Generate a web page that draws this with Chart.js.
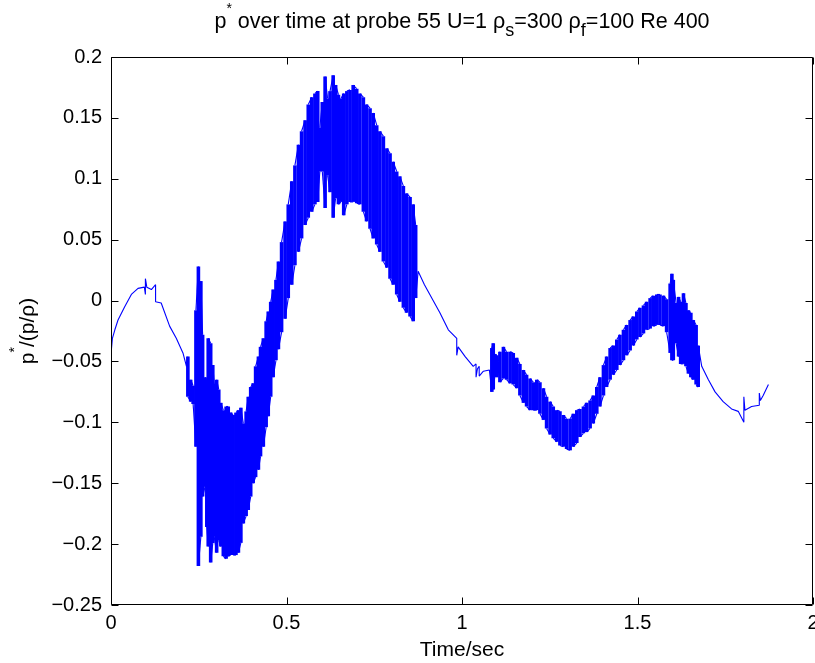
<!DOCTYPE html>
<html>
<head>
<meta charset="utf-8">
<script src="https://cdn.jsdelivr.net/npm/chart.js@4"></script>
<style>
  html, body { margin: 0; padding: 0; background: #fff; }
  canvas { display: block; }
</style>
</head>
<body>
<canvas id="chart" width="815" height="663"></canvas>
<script>
// probe 55 trace, read off the plot
// where pMax != pMin the signal swings between the two at that time
const timeSec = [
  // smooth start
  0.000, 0.004, 0.011, 0.020, 0.039, 0.058, 0.077, 0.095, 0.098, 0.102,
  0.115, 0.127, 0.143, 0.167, 0.186, 0.205, 0.215, 0.219, 0.227, 0.234,
  // first oscillating stretch
  0.242, 0.249, 0.256, 0.261, 0.268, 0.273, 0.277, 0.284, 0.290, 0.294,
  0.301, 0.307, 0.313, 0.320, 0.328, 0.334, 0.341, 0.348, 0.356, 0.363,
  0.370, 0.377, 0.385, 0.391, 0.398, 0.405, 0.412, 0.420, 0.426, 0.434,
  0.442, 0.448, 0.455, 0.462, 0.470, 0.477, 0.486, 0.496, 0.505, 0.515,
  0.524, 0.534, 0.543, 0.553, 0.562, 0.572, 0.581, 0.589, 0.595, 0.602,
  0.610, 0.617, 0.624, 0.633, 0.640, 0.648, 0.655, 0.663, 0.672, 0.681,
  0.690, 0.700, 0.709, 0.719, 0.728, 0.738, 0.747, 0.757, 0.766, 0.776,
  0.786, 0.795, 0.804, 0.814, 0.823, 0.833, 0.842, 0.852, 0.861, 0.868,
  // smooth middle
  0.875, 0.893, 0.937, 0.961, 0.985, 0.989, 1.009, 1.032, 1.040, 1.044,
  1.049, 1.061, 1.078,
  // second oscillating stretch
  1.085, 1.089, 1.094, 1.099, 1.104, 1.108, 1.118, 1.127, 1.137, 1.146,
  1.156, 1.165, 1.175, 1.184, 1.194, 1.203, 1.213, 1.222, 1.232, 1.241,
  1.251, 1.260, 1.270, 1.279, 1.289, 1.298, 1.308, 1.317, 1.327, 1.336,
  1.346, 1.355, 1.365, 1.374, 1.384, 1.393, 1.403, 1.412, 1.422, 1.431,
  1.441, 1.450, 1.460, 1.469, 1.479, 1.488, 1.498, 1.507, 1.517, 1.526,
  1.536, 1.545, 1.555, 1.564, 1.574, 1.583, 1.593, 1.598, 1.602, 1.610,
  1.617, 1.623, 1.631, 1.638, 1.645, 1.652, 1.659, 1.667, 1.673,
  // smooth end
  1.683, 1.702, 1.721, 1.744, 1.768, 1.787, 1.803, 1.806, 1.825, 1.847,
  1.850, 1.858, 1.873
];

const pMax = [
  -0.044, -0.031, -0.024, -0.016, -0.005, 0.005, 0.010, 0.011, 0.018, 0.011,
  0.009, 0.013, -0.002, -0.021, -0.031, -0.043, -0.054, -0.046, -0.065, -0.070,

  -0.008, 0.028, 0.016, -0.028, -0.063, -0.065, -0.031, -0.035, -0.053, -0.068,
  -0.065, -0.073, -0.084, -0.090, -0.087, -0.087, -0.092, -0.094, -0.092, -0.090,
  -0.088, -0.101, -0.091, -0.079, -0.071, -0.068, -0.054, -0.046, -0.038, -0.031,
  -0.017, -0.009, -0.001, 0.009, 0.017, 0.032, 0.048, 0.065, 0.079, 0.098,
  0.111, 0.128, 0.139, 0.148, 0.161, 0.167, 0.170, 0.172, 0.142, 0.163,
  0.184, 0.166, 0.172, 0.185, 0.177, 0.169, 0.166, 0.170, 0.172, 0.173,
  0.177, 0.174, 0.170, 0.167, 0.161, 0.158, 0.154, 0.144, 0.139, 0.135,
  0.125, 0.121, 0.114, 0.106, 0.102, 0.094, 0.088, 0.085, 0.079, 0.062,

  0.024, 0.013, -0.010, -0.024, -0.031, -0.038, -0.046, -0.054, -0.052, -0.056,
  -0.054, -0.058, -0.057,

  -0.039, -0.035, -0.044, -0.045, -0.050, -0.042, -0.038, -0.042, -0.042, -0.043,
  -0.047, -0.052, -0.057, -0.061, -0.064, -0.067, -0.065, -0.067, -0.072, -0.079,
  -0.083, -0.087, -0.090, -0.091, -0.094, -0.097, -0.097, -0.093, -0.090, -0.089,
  -0.087, -0.084, -0.082, -0.078, -0.071, -0.063, -0.053, -0.046, -0.039, -0.037,
  -0.032, -0.028, -0.024, -0.020, -0.016, -0.013, -0.009, -0.006, -0.004, -0.001,
  0.002, 0.004, 0.005, 0.005, 0.004, 0.001, 0.014, 0.022, 0.017, -0.002,
  0.003, -0.001, 0.006, -0.002, -0.008, -0.010, -0.016, -0.020, -0.037,

  -0.054, -0.065, -0.075, -0.083, -0.089, -0.091, -0.079, -0.090, -0.087, -0.076,
  -0.082, -0.078, -0.069
];

const pMin = [
  -0.044, -0.031, -0.024, -0.016, -0.005, 0.005, 0.010, 0.011, 0.005, 0.011,
  0.009, -0.001, -0.002, -0.021, -0.031, -0.043, -0.054, -0.079, -0.083, -0.085,

  -0.120, -0.218, -0.194, -0.161, -0.153, -0.186, -0.202, -0.215, -0.199, -0.194,
  -0.207, -0.197, -0.202, -0.210, -0.212, -0.210, -0.209, -0.209, -0.209, -0.207,
  -0.199, -0.183, -0.177, -0.172, -0.161, -0.150, -0.145, -0.139, -0.128, -0.120,
  -0.104, -0.095, -0.079, -0.063, -0.049, -0.040, -0.026, -0.015, 0.002, 0.013,
  0.029, 0.040, 0.051, 0.062, 0.068, 0.073, 0.079, 0.081, 0.106, 0.106,
  0.076, 0.103, 0.089, 0.068, 0.084, 0.079, 0.081, 0.070, 0.079, 0.081,
  0.081, 0.080, 0.079, 0.073, 0.065, 0.059, 0.051, 0.046, 0.040, 0.032,
  0.027, 0.018, 0.013, 0.005, -0.001, -0.006, -0.010, -0.013, -0.017, 0.002,

  0.024, 0.013, -0.010, -0.024, -0.045, -0.038, -0.046, -0.054, -0.063, -0.056,
  -0.062, -0.058, -0.057,

  -0.075, -0.073, -0.061, -0.063, -0.060, -0.067, -0.064, -0.065, -0.068, -0.069,
  -0.072, -0.078, -0.084, -0.087, -0.090, -0.090, -0.090, -0.093, -0.098, -0.105,
  -0.110, -0.113, -0.116, -0.119, -0.120, -0.122, -0.123, -0.120, -0.117, -0.112,
  -0.109, -0.108, -0.105, -0.101, -0.093, -0.087, -0.078, -0.071, -0.065, -0.061,
  -0.057, -0.053, -0.049, -0.045, -0.041, -0.037, -0.032, -0.030, -0.027, -0.024,
  -0.023, -0.021, -0.020, -0.020, -0.021, -0.026, -0.043, -0.049, -0.049, -0.035,
  -0.046, -0.052, -0.052, -0.054, -0.060, -0.063, -0.065, -0.069, -0.071,

  -0.054, -0.065, -0.075, -0.083, -0.089, -0.091, -0.100, -0.090, -0.087, -0.086,
  -0.082, -0.078, -0.069
];

const xTicks = [0, 0.5, 1, 1.5, 2];
const yTicks = [-0.25, -0.2, -0.15, -0.1, -0.05, 0, 0.05, 0.1, 0.15, 0.2];

const FONT = '"Liberation Sans", Arial, Helvetica, sans-serif';
const TICK_LEN = 7;

const swings = i => i >= 0 && i < timeSec.length && pMax[i] !== pMin[i];

// build the trace: a swing sample becomes a vertical stroke, taken nearest end first.
// strokes inside a run of swings are drawn heavier so the band reads as dense
const points = [];
timeSec.forEach((t, i) => {
  const hi = pMax[i], lo = pMin[i];
  if (hi === lo) {
    points.push({ x: t, y: hi });
    return;
  }
  const dense = swings(i - 1) || swings(i + 1);
  const prev = points.length ? points[points.length - 1].y : hi;
  const first = Math.abs(prev - hi) <= Math.abs(prev - lo) ? hi : lo;
  const second = first === hi ? lo : hi;
  points.push({ x: t, y: first }, { x: t, y: second, dense });
});

const fmt = v => String(Math.round(v * 100) / 100).replace('-', '\u2212');

// text with sub/superscript pieces, centred on cx
function drawRuns(ctx, runs, cx, base) {
  let total = 0;
  runs.forEach(r => {
    ctx.font = r.size + 'px ' + FONT;
    r.w = ctx.measureText(r.text).width;
    total += r.w;
  });
  let xPos = cx - total / 2;
  runs.forEach(r => {
    ctx.font = r.size + 'px ' + FONT;
    ctx.fillText(r.text, xPos, base + (r.dy || 0));
    xPos += r.w;
  });
}

const matlabAxes = {
  id: 'matlabAxes',
  afterDraw(chart) {
    const { ctx, chartArea: a, scales: { x, y } } = chart;
    ctx.save();
    ctx.strokeStyle = '#000';
    ctx.lineWidth = 1;
    ctx.beginPath();
    const L = Math.round(a.left) + 0.5, R = Math.round(a.right) - 0.5;
    const T = Math.round(a.top) + 0.5, B = Math.round(a.bottom) - 0.5;
    ctx.rect(L, T, R - L, B - T);
    xTicks.forEach(v => {
      const px = Math.round(x.getPixelForValue(v)) + 0.5;
      ctx.moveTo(px, B); ctx.lineTo(px, B - TICK_LEN);
      ctx.moveTo(px, T); ctx.lineTo(px, T + TICK_LEN);
    });
    yTicks.forEach(v => {
      const py = Math.round(y.getPixelForValue(v)) + 0.5;
      ctx.moveTo(L, py); ctx.lineTo(L + TICK_LEN, py);
      ctx.moveTo(R, py); ctx.lineTo(R - TICK_LEN, py);
    });
    ctx.stroke();

    ctx.fillStyle = '#000';
    ctx.textBaseline = 'alphabetic';
    ctx.textAlign = 'left';
    const cx = (a.left + a.right) / 2;
    drawRuns(ctx, [
      { text: 'p', size: 21.5 },
      { text: '*', size: 14, dy: -15 },
      { text: ' over time at probe 55 U=1 \u03c1', size: 21.5 },
      { text: 's', size: 18, dy: 8 },
      { text: '=300 \u03c1', size: 21.5 },
      { text: 'f', size: 18, dy: 8 },
      { text: '=100 Re 400', size: 21.5 }
    ], cx, 28);

    drawRuns(ctx, [{ text: 'Time/sec', size: 21 }], cx, 656);

    ctx.save();
    ctx.translate(34, (a.top + a.bottom) / 2);
    ctx.rotate(-Math.PI / 2);
    drawRuns(ctx, [
      { text: 'p', size: 21 },
      { text: '*', size: 14, dy: -15 },
      { text: '/(p/\u03c1)', size: 21 }
    ], 0, 0);
    ctx.restore();
    ctx.restore();
  }
};

new Chart(document.getElementById('chart'), {
  type: 'line',
  data: {
    datasets: [{
      data: points,
      borderColor: '#0000ff',
      borderWidth: 1,
      borderCapStyle: 'butt',
      borderJoinStyle: 'bevel',
      pointRadius: 0,
      tension: 0,
      fill: false,
      segment: {
        borderWidth: c => (points[c.p1DataIndex].dense ? 3.6 : 1.1)
      }
    }]
  },
  options: {
    responsive: false,
    animation: false,
    events: [],
    layout: { padding: { top: 57, right: 2, left: 0, bottom: 0 } },
    plugins: {
      legend: { display: false },
      tooltip: { enabled: false },
      title: { display: false }
    },
    scales: {
      x: {
        type: 'linear',
        min: 0,
        max: 2,
        afterBuildTicks: s => { s.ticks = xTicks.map(v => ({ value: v })); },
        afterFit: s => { s.height = 58; s.paddingLeft = 0; s.paddingRight = 0; },
        grid: { display: false, drawTicks: false },
        border: { display: false },
        ticks: {
          padding: 6,
          color: '#000',
          font: { family: FONT, size: 20 },
          maxRotation: 0,
          autoSkip: false,
          callback: fmt
        }
      },
      y: {
        type: 'linear',
        min: -0.25,
        max: 0.2,
        afterBuildTicks: s => { s.ticks = yTicks.map(v => ({ value: v })); },
        afterFit: s => { s.width = 111; s.paddingTop = 0; s.paddingBottom = 0; },
        grid: { display: false, drawTicks: false },
        border: { display: false },
        ticks: {
          padding: 9,
          color: '#000',
          font: { family: FONT, size: 20 },
          autoSkip: false,
          callback: fmt
        }
      }
    }
  },
  plugins: [matlabAxes]
});
</script>
</body>
</html>
